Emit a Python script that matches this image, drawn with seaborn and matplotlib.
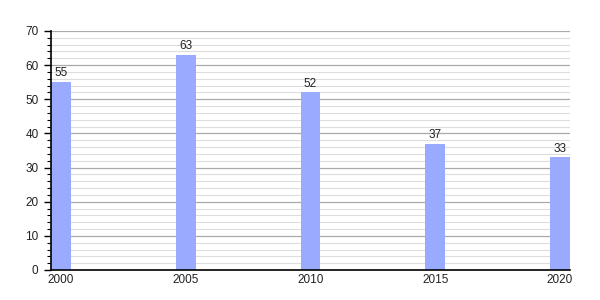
import matplotlib
matplotlib.use("Agg")
import matplotlib.pyplot as plt
import seaborn as sns
import pandas as pd
from matplotlib.ticker import MultipleLocator

years = ["2000", "2005", "2010", "2015", "2020"]
values = [55, 63, 52, 37, 33]

sns.set_theme(style="white")
plt.rcParams['font.family'] = ['Liberation Sans', 'DejaVu Sans']

df = pd.DataFrame({"year": years, "value": values})

fig = plt.figure(figsize=(6, 3), dpi=100)
ax = fig.add_axes([0.085, 0.1, 0.865, 0.7967])

sns.barplot(data=df, x="year", y="value", color="#99AAFF", saturation=1,
            width=0.16, ax=ax, zorder=3)
for p in ax.patches:
    p.set_edgecolor("none")

ax.set_xlim(-0.08, 4.08)
ax.set_ylim(0, 70)
ax.yaxis.set_major_locator(MultipleLocator(10))
ax.yaxis.set_minor_locator(MultipleLocator(2))
ax.grid(True, which="major", axis="y", color="#aaaaaa", linewidth=0.9, zorder=0)
ax.grid(True, which="minor", axis="y", color="#dddddd", linewidth=0.8, zorder=0)
ax.set_axisbelow(True)

for s in ["top", "right"]:
    ax.spines[s].set_visible(False)
for s in ["left", "bottom"]:
    ax.spines[s].set_color("black")
    ax.spines[s].set_linewidth(1.2)
    ax.spines[s].set_zorder(4)

ax.tick_params(axis="y", which="major", left=True, length=5, width=1, color="black",
               labelsize=8.5, pad=4, labelcolor="#222222")
ax.tick_params(axis="y", which="minor", left=True, length=3, width=0.8, color="black")
ax.tick_params(axis="x", which="both", bottom=False, length=0, labelsize=8.5, pad=3,
               labelcolor="#222222")

ax.bar_label(ax.containers[0], labels=[str(v) for v in values], fontsize=8.5,
             padding=2, color="#222222")

ax.set_xlabel("")
ax.set_ylabel("")

fig.savefig("out.png", dpi=100)
